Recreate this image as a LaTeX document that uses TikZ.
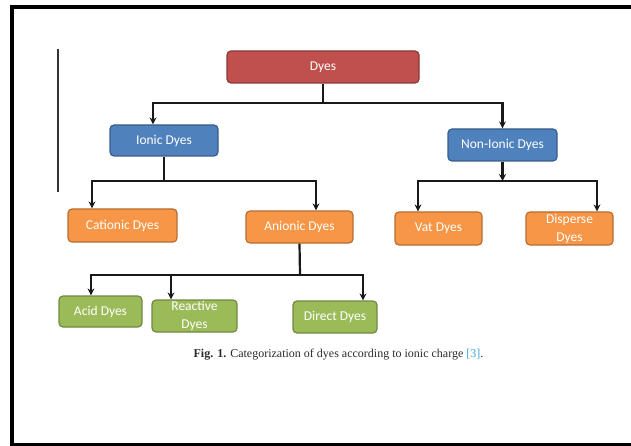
\documentclass[tikz,border=0pt]{standalone}
\usepackage{fontspec}
\setmainfont{Liberation Serif}
\newfontfamily\boxfont{Carlito}
\usetikzlibrary{arrows.meta}
\definecolor{redfill}{HTML}{C0504D}
\definecolor{redline}{HTML}{8C3836}
\definecolor{bluefill}{HTML}{4F81BD}
\definecolor{blueline}{HTML}{385D8A}
\definecolor{orangefill}{HTML}{F79646}
\definecolor{orangeline}{HTML}{B66D31}
\definecolor{greenfill}{HTML}{9BBB59}
\definecolor{greenline}{HTML}{71893F}
\definecolor{linkblue}{HTML}{3FA9D6}
\definecolor{captgray}{HTML}{2A2A2A}
\tikzset{
  dbox/.style={rectangle, rounded corners=4pt, line width=1.2pt, text=white,
    font=\boxfont\fontsize{13.5}{18}\selectfont, align=center, inner sep=0pt},
  redbox/.style={dbox, fill=redfill, draw=redline},
  bluebox/.style={dbox, fill=bluefill, draw=blueline},
  orangebox/.style={dbox, fill=orangefill, draw=orangeline},
  greenbox/.style={dbox, fill=greenfill, draw=greenline},
  conn/.style={line width=2.2pt, draw=black!90},
  arr/.style={conn, -{Stealth[length=7pt,width=7pt]}},
}
\begin{document}
\begin{tikzpicture}[x=1pt,y=-1pt]
\useasboundingbox (0,0) rectangle (631,446);
\begin{scope}
\clip (0,0) rectangle (631,446);
\draw[line width=4pt, black] (12,7) rectangle (660,445);
\end{scope}
\draw[line width=1.2pt, black!80] (58,49) -- (58,192);

\node[redbox, minimum width=192pt, minimum height=32pt] (dyes) at (323,67) {Dyes};
\node[bluebox, minimum width=108pt, minimum height=31pt] (ionic) at (164,140.5) {Ionic Dyes};
\node[bluebox, minimum width=109pt, minimum height=32pt] (nonionic) at (502.5,145) {Non-Ionic Dyes};
\node[orangebox, minimum width=109pt, minimum height=33pt] (cationic) at (122.5,225.5) {Cationic Dyes};
\node[orangebox, minimum width=107pt, minimum height=32pt] (anionic) at (299.5,227) {Anionic Dyes};
\node[orangebox, minimum width=87pt, minimum height=33pt] (vat) at (438.5,228.5) {Vat Dyes};
\node[orangebox, minimum width=87pt, minimum height=33pt] (disperse) at (569.5,228.5) {Disperse\\Dyes};
\node[greenbox, minimum width=83pt, minimum height=31pt] (acid) at (100.5,311.5) {Acid Dyes};
\node[greenbox, minimum width=85pt, minimum height=32pt] (reactive) at (194.5,316) {Reactive\\Dyes};
\node[greenbox, minimum width=84pt, minimum height=32pt] (direct) at (335,317) {Direct Dyes};

% Dyes
\coordinate (b1) at (323,103);
\draw[conn] (dyes.south) -- (b1);
\draw[arr] (b1) -| ([xshift=-11pt]ionic.north);
\draw[arr] (b1) -| (nonionic.north);
% Ionic
\coordinate (b2) at (164,181);
\draw[conn] (ionic.south) -- (b2);
\draw[arr] (b2) -| ([xshift=-30.5pt]cationic.north);
\draw[arr] (b2) -| ([xshift=16.5pt]anionic.north);
% Non-ionic
\coordinate (b3) at (502.5,181);
\draw[arr] (nonionic.south) -- (b3);
\draw[arr] (b3) -| ([xshift=-20.5pt]vat.north);
\draw[arr] (b3) -| ([xshift=27.5pt]disperse.north);
% Anionic
\coordinate (b4) at (300,275);
\draw[conn] (anionic.south) -- (b4);
\draw[arr] (b4) -| ([xshift=-9.5pt]acid.north);
\draw[arr] (b4) -| ([xshift=-23.5pt]reactive.north);
\draw[arr] (b4) -| ([xshift=28pt]direct.north);

\node[font=\fontsize{12}{14}\selectfont, text=captgray, inner sep=0pt] (caption) at (338.5,355)
  {\textbf{Fig. 1.} Categorization of dyes according to ionic charge \textcolor{linkblue}{[3]}.};
\end{tikzpicture}
\end{document}
